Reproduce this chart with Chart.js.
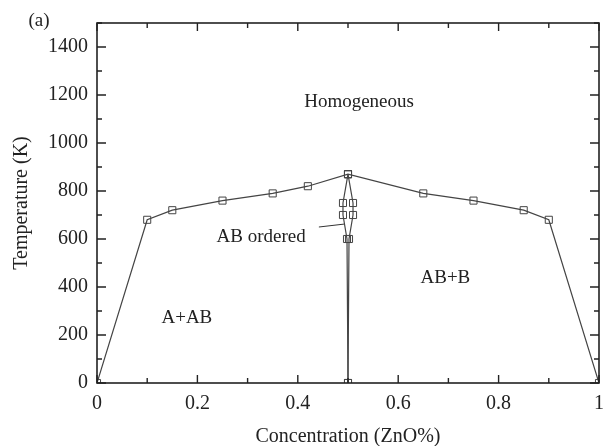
<!DOCTYPE html>
<html>
<head>
<meta charset="utf-8">
<script src="https://cdn.jsdelivr.net/npm/chart.js@4/dist/chart.umd.min.js"></script>
<style>
  html, body { margin: 0; padding: 0; background: #fff; }
  #wrap { width: 605px; height: 446px; }
</style>
</head>
<body>
<div id="wrap"><canvas id="phase"></canvas></div>
<script>
// outer phase boundary (concentration, temperature)
const boundaryX = [0, 0.1, 0.15, 0.25, 0.35, 0.42, 0.5, 0.65, 0.75, 0.85, 0.9, 1];
const boundaryT = [0, 680, 720, 760, 790, 820, 870, 790, 760, 720, 680, 0];
// AB ordered region (narrow)
const leftX = [0.5, 0.49, 0.49, 0.498, 0.5];
const leftT = [870, 750, 700, 600, 0];
const rightX = [0.5, 0.51, 0.51, 0.502, 0.5];
const rightT = [870, 750, 700, 600, 0];

const xTicks = [0, 0.2, 0.4, 0.6, 0.8, 1];
const yTicks = [0, 200, 400, 600, 800, 1000, 1200, 1400];

const labels = [
  { text: "Homogeneous", x: 0.522, y: 1170 },
  { text: "AB ordered", x: 0.327, y: 608 },
  { text: "AB+B", x: 0.694, y: 437 },
  { text: "A+AB", x: 0.179, y: 271 }
];

const toPts = (xs, ys) => xs.map((x, i) => ({ x: x, y: ys[i] }));

const lineStyle = {
  showLine: true,
  borderColor: "#444",
  borderWidth: 1.2,
  pointStyle: "rect",
  pointRadius: 5,
  pointBorderColor: "#444",
  pointBorderWidth: 1,
  pointBackgroundColor: "rgba(255,255,255,0)",
  tension: 0
};

const serif = "'Liberation Serif', 'DejaVu Serif', serif";

// frame, inward ticks and text labels
const decor = {
  id: "decor",
  afterDraw(chart) {
    const ctx = chart.ctx;
    const a = chart.chartArea;
    const xs = chart.scales.x, ys = chart.scales.y;
    ctx.save();
    ctx.strokeStyle = "#222";
    ctx.lineWidth = 1.6;
    ctx.strokeRect(a.left, a.top, a.right - a.left, a.bottom - a.top);
    ctx.lineWidth = 1.4;
    ctx.beginPath();
    for (let v = 0; v <= 1.0001; v += 0.1) {
      const px = xs.getPixelForValue(v);
      const major = Math.round(v * 10) % 2 === 0;
      const len = major ? 8 : 5;
      ctx.moveTo(px, a.bottom); ctx.lineTo(px, a.bottom - len);
      ctx.moveTo(px, a.top); ctx.lineTo(px, a.top + len);
    }
    for (let v = 0; v <= 1500; v += 100) {
      const py = ys.getPixelForValue(v);
      const major = v % 200 === 0;
      const len = major ? 9 : 5;
      ctx.moveTo(a.left, py); ctx.lineTo(a.left + len, py);
      ctx.moveTo(a.right, py); ctx.lineTo(a.right - len, py);
    }
    ctx.stroke();

    // leader line for AB ordered
    ctx.lineWidth = 1;
    ctx.strokeStyle = "#333";
    ctx.beginPath();
    ctx.moveTo(xs.getPixelForValue(0.442), ys.getPixelForValue(650));
    ctx.lineTo(xs.getPixelForValue(0.492), ys.getPixelForValue(662));
    ctx.stroke();

    ctx.fillStyle = "#222";
    ctx.font = "19px " + serif;
    ctx.textAlign = "center";
    ctx.textBaseline = "middle";
    labels.forEach(l => {
      ctx.fillText(l.text, xs.getPixelForValue(l.x), ys.getPixelForValue(l.y));
    });
    ctx.fillText("(a)", 39, 21);
    ctx.restore();
  }
};

new Chart(document.getElementById("phase"), {
  type: "scatter",
  data: {
    datasets: [
      Object.assign({ data: toPts(boundaryX, boundaryT) }, lineStyle),
      Object.assign({ data: toPts(leftX, leftT) }, lineStyle),
      Object.assign({ data: toPts(rightX, rightT) }, lineStyle)
    ]
  },
  options: {
    responsive: true,
    maintainAspectRatio: false,
    animation: false,
    layout: { padding: { top: 23, right: 3, left: 0, bottom: 0 } },
    plugins: { legend: { display: false }, tooltip: { enabled: false } },
    scales: {
      x: {
        type: "linear",
        min: 0,
        max: 1,
        afterBuildTicks: s => { s.ticks = xTicks.map(v => ({ value: v })); },
        afterFit: s => { s.height = 63; s.paddingLeft = 0; s.paddingRight = 0; },
        grid: { display: false, drawTicks: false },
        border: { display: false },
        ticks: {
          color: "#222",
          padding: 9,
          maxRotation: 0,
          font: { family: serif, size: 20 },
          callback: v => String(v)
        },
        title: {
          display: true,
          text: "Concentration (ZnO%)",
          color: "#222",
          font: { family: serif, size: 20 },
          padding: { top: 0, bottom: -3 }
        }
      },
      y: {
        min: 0,
        max: 1500,
        afterBuildTicks: s => { s.ticks = yTicks.map(v => ({ value: v })); },
        afterFit: s => { s.width = 97; s.paddingTop = 0; s.paddingBottom = 0; },
        grid: { display: false, drawTicks: false },
        border: { display: false },
        ticks: {
          color: "#222",
          padding: 9,
          font: { family: serif, size: 20 },
          callback: v => String(v)
        },
        title: {
          display: true,
          text: "Temperature (K)",
          color: "#222",
          font: { family: serif, size: 20 },
          padding: { top: 10, bottom: 0 }
        }
      }
    }
  },
  plugins: [decor]
});
</script>
</body>
</html>
